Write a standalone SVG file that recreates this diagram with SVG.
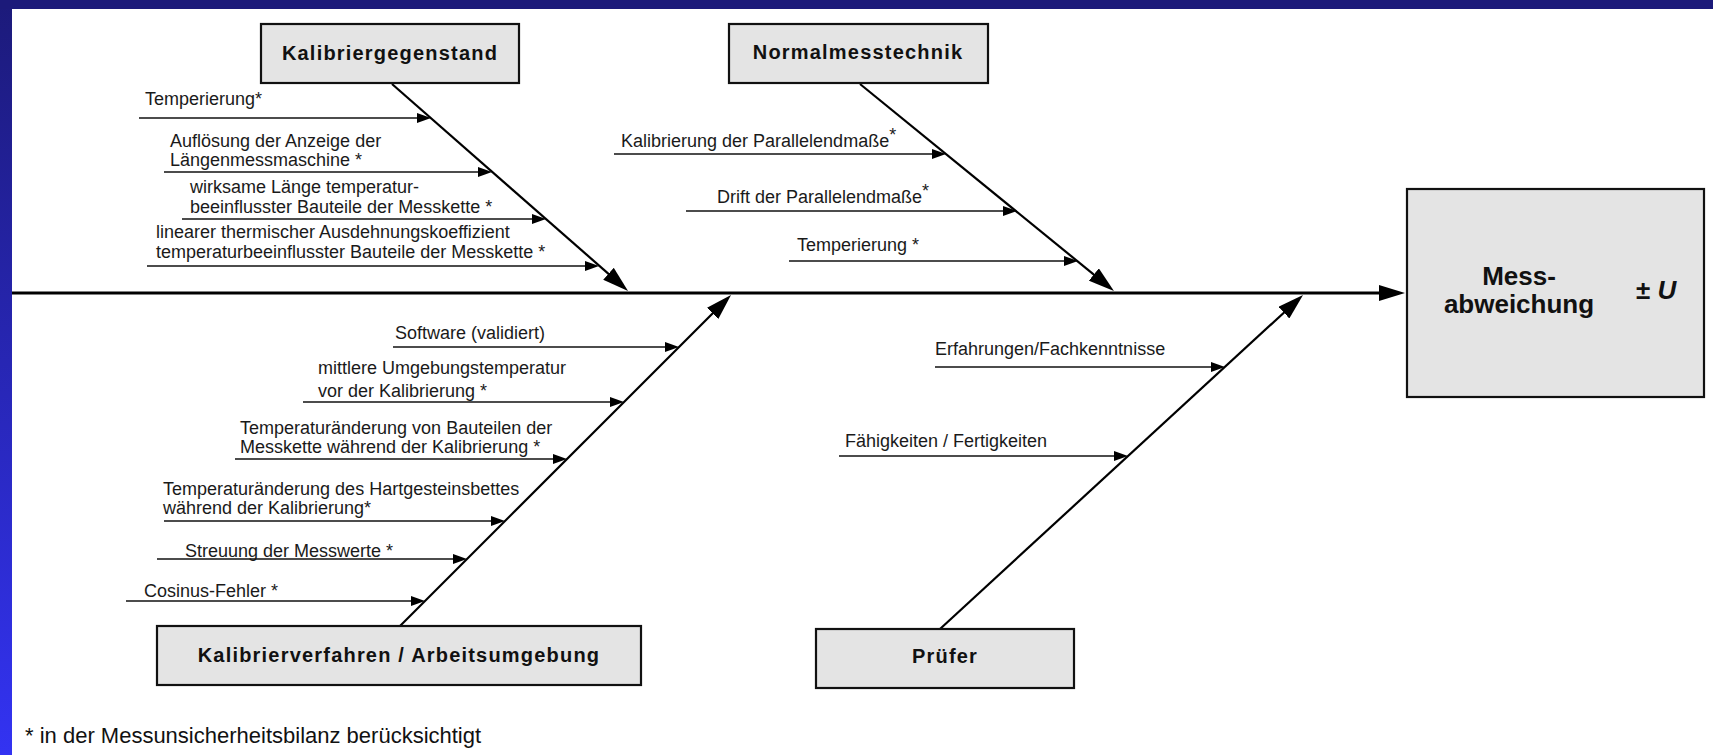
<svg xmlns="http://www.w3.org/2000/svg" width="1713" height="755" viewBox="0 0 1713 755">
  <defs>
    <linearGradient id="leftBand" x1="0" y1="0" x2="0" y2="1">
      <stop offset="0" stop-color="#1c1a7a"/>
      <stop offset="1" stop-color="#3333f2"/>
    </linearGradient>
    <marker id="ahS" viewBox="0 0 14 10" refX="4" refY="5" markerWidth="14" markerHeight="10" markerUnits="userSpaceOnUse" orient="auto">
      <path d="M0,0 L14,5 L0,10 z" fill="#000"/>
    </marker>
    <marker id="ahB" viewBox="0 0 26 16" refX="8" refY="8" markerWidth="26" markerHeight="16" markerUnits="userSpaceOnUse" orient="auto">
      <path d="M0,0 L26,8 L0,16 z" fill="#000"/>
    </marker>
  </defs>
  <style>
    .box { fill: #e4e4e4; stroke: #111; stroke-width: 2.2; }
    .title { font-family: "Liberation Sans", Arial, sans-serif; font-weight: bold; font-size: 20px; letter-spacing: 1.2px; text-anchor: middle; fill: #111; }
    .effect { font-family: "Liberation Sans", Arial, sans-serif; font-weight: bold; font-size: 26px; fill: #111; }
    .lbl { font-family: "Liberation Sans", Arial, sans-serif; font-size: 18px; fill: #1a1a1a; }
    .foot { font-family: "Liberation Sans", Arial, sans-serif; font-size: 22px; fill: #111; }
    .sub { stroke: #111; stroke-width: 1.3; fill: none; marker-end: url(#ahS); }
    .branch { stroke: #000; stroke-width: 2.2; fill: none; marker-end: url(#ahB); }
    .spine { stroke: #000; stroke-width: 3.2; fill: none; marker-end: url(#ahB); }
  </style>

  <!-- background -->
  <rect x="0" y="0" width="1713" height="755" fill="#ffffff"/>
  <rect x="0" y="0" width="12" height="755" fill="url(#leftBand)"/>
  <rect x="0" y="0" width="1713" height="9" fill="#1c1a7a"/>

  <!-- connectors -->
  <g id="connectors">
    <line class="spine" x1="12" y1="293" x2="1387" y2="293"/>
    <line class="branch" x1="392" y1="84" x2="614.5" y2="279.1"/>
    <line class="branch" x1="860" y1="84" x2="1100" y2="279.6"/>
    <line class="branch" x1="400" y1="626" x2="718.3" y2="307.7"/>
    <line class="branch" x1="940" y1="629" x2="1289.8" y2="307.2"/>

    <line class="sub" x1="139" y1="118" x2="421" y2="118"/>
    <line class="sub" x1="164" y1="172" x2="482" y2="172"/>
    <line class="sub" x1="182" y1="219" x2="536" y2="219"/>
    <line class="sub" x1="147" y1="266" x2="589" y2="266"/>

    <line class="sub" x1="614" y1="154" x2="936" y2="154"/>
    <line class="sub" x1="686" y1="211" x2="1007" y2="211"/>
    <line class="sub" x1="789" y1="261" x2="1068" y2="261"/>

    <line class="sub" x1="393" y1="347" x2="669" y2="347"/>
    <line class="sub" x1="303" y1="402" x2="614" y2="402"/>
    <line class="sub" x1="235" y1="459" x2="557" y2="459"/>
    <line class="sub" x1="164" y1="521" x2="495" y2="521"/>
    <line class="sub" x1="157" y1="559" x2="457" y2="559"/>
    <line class="sub" x1="126" y1="601" x2="415" y2="601"/>

    <line class="sub" x1="935" y1="367" x2="1215" y2="367"/>
    <line class="sub" x1="839" y1="456" x2="1118" y2="456"/>
  </g>

  <!-- category nodes -->
  <g id="node-kalibriergegenstand">
    <rect class="box" x="261" y="24" width="258" height="59"/>
    <text class="title" x="390" y="60">Kalibriergegenstand</text>
  </g>
  <g id="node-normalmesstechnik">
    <rect class="box" x="729" y="24" width="259" height="59"/>
    <text class="title" x="858" y="59">Normalmesstechnik</text>
  </g>
  <g id="node-kalibrierverfahren">
    <rect class="box" x="157" y="626" width="484" height="59"/>
    <text class="title" x="399" y="662">Kalibrierverfahren / Arbeitsumgebung</text>
  </g>
  <g id="node-pruefer">
    <rect class="box" x="816" y="629" width="258" height="59"/>
    <text class="title" x="945" y="663">Prüfer</text>
  </g>

  <!-- effect node -->
  <g id="node-messabweichung">
    <rect class="box" x="1407" y="189" width="297" height="208"/>
    <text class="effect" x="1519" y="285" text-anchor="middle">Mess-</text>
    <text class="effect" x="1519" y="313" text-anchor="middle">abweichung</text>
    <text class="effect" x="1636" y="299">± <tspan font-style="italic">U</tspan></text>
  </g>

  <!-- causes: Kalibriergegenstand -->
  <g id="cause-k1"><text class="lbl" x="145" y="105">Temperierung*</text></g>
  <g id="cause-k2">
    <text class="lbl" x="170" y="147">Auflösung der Anzeige der</text>
    <text class="lbl" x="170" y="166">Längenmessmaschine *</text>
  </g>
  <g id="cause-k3">
    <text class="lbl" x="190" y="193">wirksame Länge temperatur-</text>
    <text class="lbl" x="190" y="213">beeinflusster Bauteile der Messkette *</text>
  </g>
  <g id="cause-k4">
    <text class="lbl" x="156" y="238">linearer thermischer Ausdehnungskoeffizient</text>
    <text class="lbl" x="156" y="258">temperaturbeeinflusster Bauteile der Messkette *</text>
  </g>

  <!-- causes: Normalmesstechnik -->
  <g id="cause-n1"><text class="lbl" x="621" y="147">Kalibrierung der Parallelendmaße<tspan dy="-6">*</tspan></text></g>
  <g id="cause-n2"><text class="lbl" x="717" y="203">Drift der Parallelendmaße<tspan dy="-6">*</tspan></text></g>
  <g id="cause-n3"><text class="lbl" x="797" y="251">Temperierung *</text></g>

  <!-- causes: Kalibrierverfahren / Arbeitsumgebung -->
  <g id="cause-v1"><text class="lbl" x="395" y="339">Software (validiert)</text></g>
  <g id="cause-v2">
    <text class="lbl" x="318" y="374">mittlere Umgebungstemperatur</text>
    <text class="lbl" x="318" y="397">vor der Kalibrierung *</text>
  </g>
  <g id="cause-v3">
    <text class="lbl" x="240" y="434">Temperaturänderung von Bauteilen der</text>
    <text class="lbl" x="240" y="453">Messkette während der Kalibrierung *</text>
  </g>
  <g id="cause-v4">
    <text class="lbl" x="163" y="495">Temperaturänderung des Hartgesteinsbettes</text>
    <text class="lbl" x="163" y="514">während der Kalibrierung*</text>
  </g>
  <g id="cause-v5"><text class="lbl" x="185" y="557">Streuung der Messwerte *</text></g>
  <g id="cause-v6"><text class="lbl" x="144" y="597">Cosinus-Fehler *</text></g>

  <!-- causes: Prüfer -->
  <g id="cause-p1"><text class="lbl" x="935" y="355">Erfahrungen/Fachkenntnisse</text></g>
  <g id="cause-p2"><text class="lbl" x="845" y="447">Fähigkeiten / Fertigkeiten</text></g>

  <!-- footnote -->
  <g id="footnote">
    <text class="foot" x="25" y="743">* in der Messunsicherheitsbilanz berücksichtigt</text>
  </g>
</svg>
